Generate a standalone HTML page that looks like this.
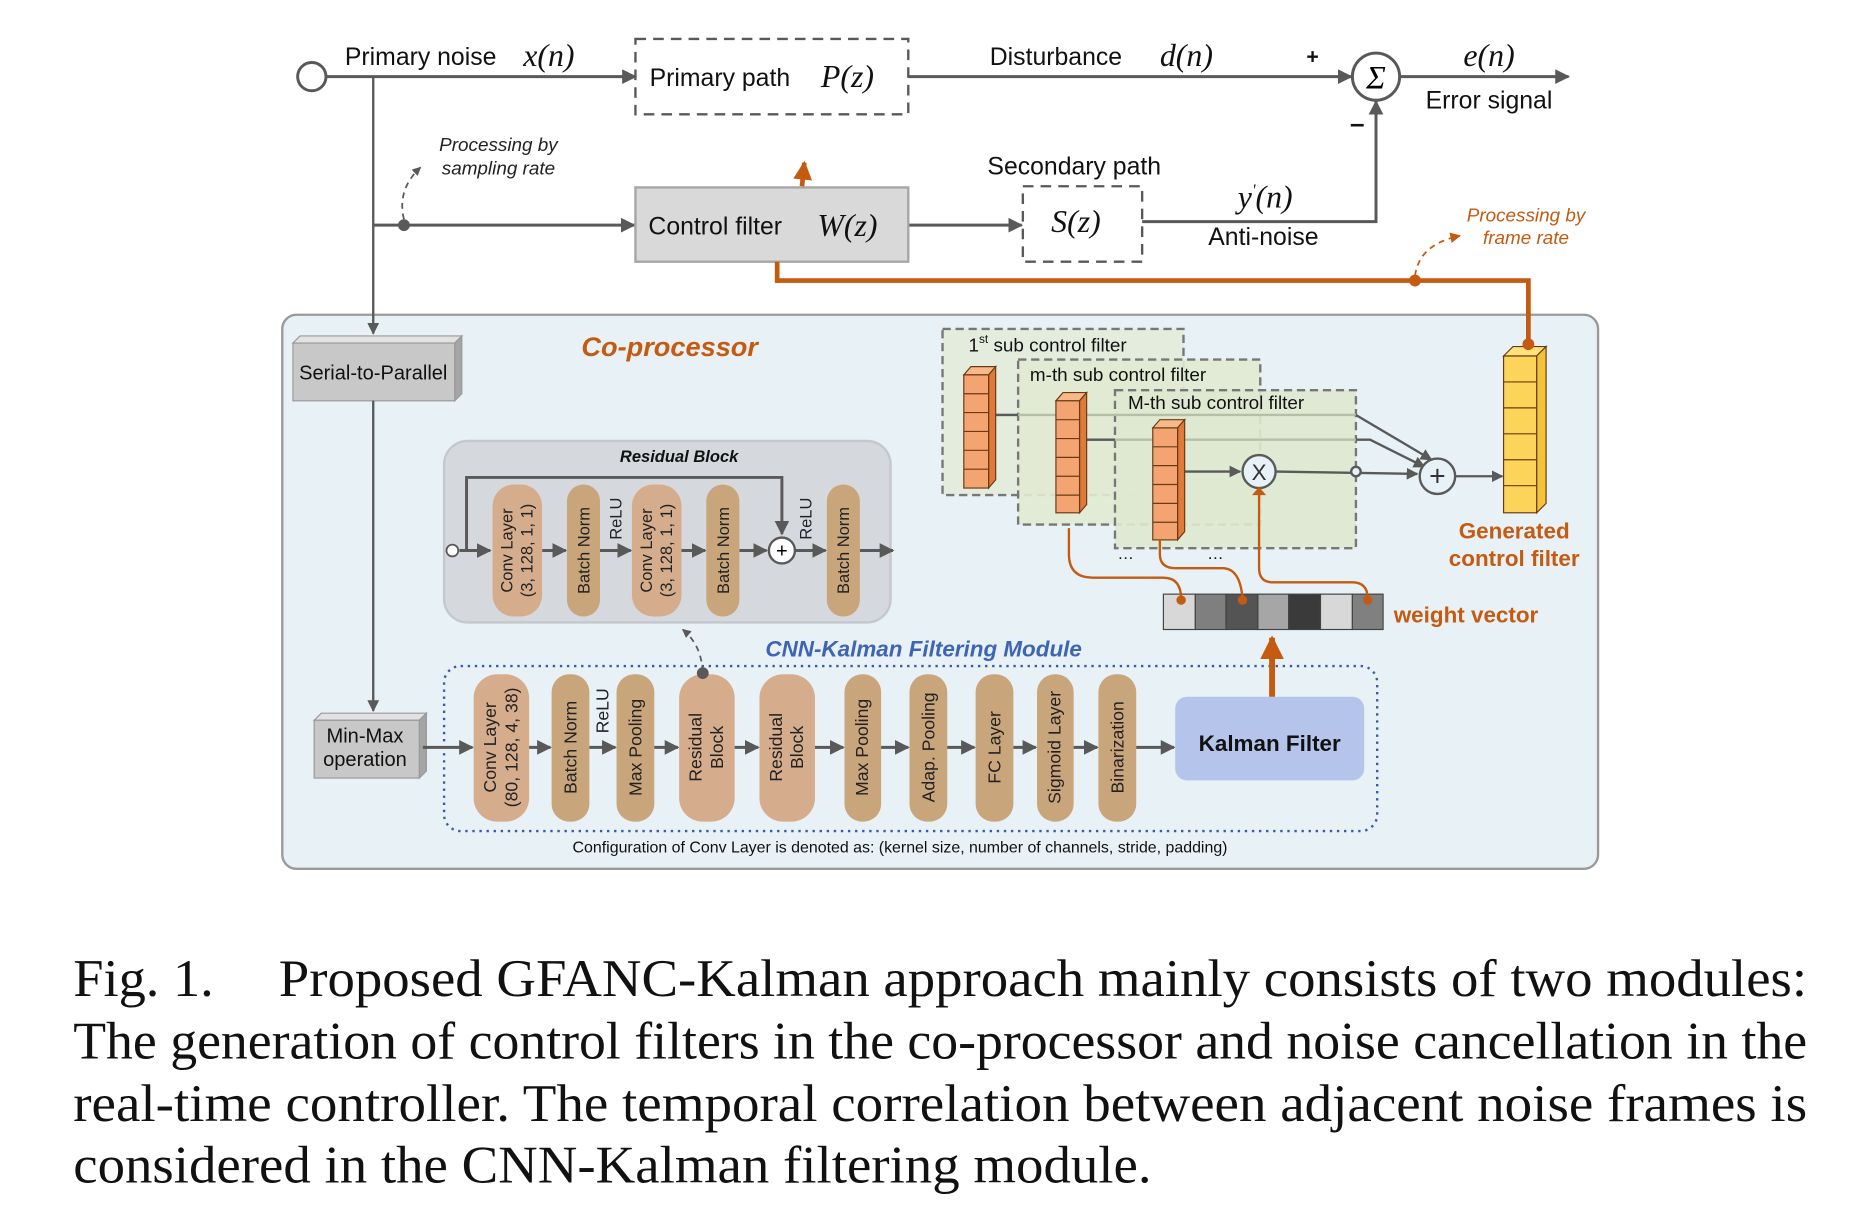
<!DOCTYPE html>
<html><head><meta charset="utf-8"><style>
html,body{margin:0;padding:0;background:#fff;}
svg{display:block;}
.s{font-family:"Liberation Sans",sans-serif;}
.m{font-family:"Liberation Serif",serif;font-style:italic;}
</style></head><body>
<svg width="1852" height="1226" viewBox="0 0 1568 1040" preserveAspectRatio="none" xmlns="http://www.w3.org/2000/svg">
<defs>
<marker id="a" viewBox="0 0 10 10" refX="9" refY="5" markerWidth="5" markerHeight="5" orient="auto"><path d="M0,0L10,5L0,10z" fill="#595959"/></marker>
<marker id="o" viewBox="0 0 10 10" refX="9" refY="5" markerWidth="4" markerHeight="4" orient="auto"><path d="M0,0L10,5L0,10z" fill="#c55a11"/></marker>
<marker id="o2" viewBox="0 0 10 10" refX="9" refY="5" markerWidth="6" markerHeight="6" orient="auto"><path d="M0,0L10,5L0,10z" fill="#c55a11"/></marker>
</defs>
<rect width="1568" height="1040" fill="#fff"/>

<!-- top controller -->
<g stroke="#595959" stroke-width="2.5" fill="none">
<circle cx="264" cy="65" r="12"/>
<line x1="276" y1="65" x2="538" y2="65" marker-end="url(#a)"/>
<line x1="769" y1="65" x2="1144" y2="65" marker-end="url(#a)"/>
<line x1="1185" y1="65" x2="1328" y2="65" marker-end="url(#a)"/>
<circle cx="1165" cy="65" r="20"/>
<line x1="316" y1="191" x2="537" y2="191" marker-end="url(#a)"/>
<line x1="769" y1="191" x2="865" y2="191" marker-end="url(#a)"/>
<polyline points="967,188 1165,188 1165,86" marker-end="url(#a)"/>
<rect x="538" y="33" width="231" height="64" stroke-dasharray="9,6" stroke-width="2"/>
<rect x="866" y="158" width="101" height="64" stroke-dasharray="9,6" stroke-width="2"/>
<path d="M342,186 C338,170 342,155 356,142" stroke-width="1.5" stroke-dasharray="5,4" marker-end="url(#a)"/>
</g>
<circle cx="342" cy="191" r="5" fill="#595959"/>
<rect x="538" y="159" width="231" height="63" fill="#d9d9d9" stroke="#a6a6a6" stroke-width="2"/>
<text x="1165" y="75" font-size="28" text-anchor="middle" class="m" font-style="normal">Σ</text>
<text class="s" font-size="21" fill="#111">
<tspan x="292" y="55">Primary noise</tspan>
<tspan x="550" y="73">Primary path</tspan>
<tspan x="838" y="55">Disturbance</tspan>
<tspan x="549" y="199">Control filter</tspan>
<tspan x="836" y="148">Secondary path</tspan>
<tspan x="1023" y="208">Anti-noise</tspan>
<tspan x="1207" y="92">Error signal</tspan>
<tspan x="1106" y="54" font-weight="bold" font-size="18">+</tspan>
<tspan x="1143" y="112" font-weight="bold" font-size="22">–</tspan>
</text>
<text class="m" font-size="27" fill="#111">
<tspan x="443" y="56">x(n)</tspan>
<tspan x="695" y="74">P(z)</tspan>
<tspan x="982" y="56">d(n)</tspan>
<tspan x="1239" y="56">e(n)</tspan>
<tspan x="692" y="200">W(z)</tspan>
<tspan x="890" y="197">S(z)</tspan>
<tspan x="1048" y="176">y</tspan><tspan font-size="14" dy="-10">'</tspan><tspan dy="10">(n)</tspan>
</text>
<text class="s" font-size="16" font-style="italic" fill="#222" text-anchor="middle">
<tspan x="422" y="128">Processing by</tspan><tspan x="422" y="148">sampling rate</tspan></text>
<text class="s" font-size="16" font-style="italic" fill="#c55a11" text-anchor="middle">
<tspan x="1292" y="188">Processing by</tspan><tspan x="1292" y="207">frame rate</tspan></text>

<!-- co-processor -->
<rect x="239" y="267" width="1114" height="470" rx="12" fill="#e8f1f6" stroke="#9a9a9a" stroke-width="2"/>
<line x1="316" y1="65" x2="316" y2="283" stroke="#595959" stroke-width="2" marker-end="url(#a)"/>
<!-- orange feedback -->
<g stroke="#c55a11" fill="none">
<polyline points="658,238 1294,238 1294,292" stroke-width="4"/>
<line x1="658" y1="240" x2="658" y2="222" stroke-width="4"/>
<line x1="679" y1="158" x2="681" y2="138" stroke-width="4" marker-end="url(#o)"/>
<path d="M1198,234 C1200,220 1208,206 1236,200" stroke-width="1.5" stroke-dasharray="5,4" marker-end="url(#o2)"/>
</g>
<circle cx="1198" cy="238" r="5" fill="#c55a11"/>

<!-- serial to parallel -->
<polygon points="248,291 254,285 391,285 385,291" fill="#e2e2e2" stroke="#999"/>
<polygon points="385,291 391,285 391,334 385,340" fill="#a5a5a5" stroke="#999"/>
<rect x="248" y="291" width="137" height="49" fill="#c8c8c8" stroke="#999"/>
<text x="316" y="322" class="s" font-size="17" text-anchor="middle" fill="#111">Serial-to-Parallel</text>
<line x1="316" y1="340" x2="316" y2="603" stroke="#595959" stroke-width="2" marker-end="url(#a)"/>
<polygon points="266,611 272,605 361,605 355,611" fill="#e2e2e2" stroke="#999"/>
<polygon points="355,611 361,605 361,654 355,660" fill="#a5a5a5" stroke="#999"/>
<rect x="266" y="611" width="89" height="49" fill="#c8c8c8" stroke="#999"/>
<text class="s" font-size="17" text-anchor="middle" fill="#111"><tspan x="309" y="630">Min-Max</tspan><tspan x="309" y="650">operation</tspan></text>
<text x="567" y="302" class="s" font-size="23" font-weight="bold" font-style="italic" fill="#c55a11" text-anchor="middle">Co-processor</text>

<!-- residual block -->
<rect x="376" y="374" width="378" height="154" rx="20" fill="#d5d9de" stroke="#c4c8cc" stroke-width="2"/>
<text x="575" y="392" class="s" font-size="14" font-weight="bold" font-style="italic" text-anchor="middle" fill="#111">Residual Block</text>
<g stroke="#595959" stroke-width="2.5" fill="none">
<polyline points="395,467 395,405 662,405 662,453" marker-end="url(#a)"/>
<line x1="389" y1="467" x2="415" y2="467" marker-end="url(#a)"/>
<line x1="459" y1="467" x2="479" y2="467" marker-end="url(#a)"/>
<line x1="508" y1="467" x2="534" y2="467" marker-end="url(#a)"/>
<line x1="577" y1="467" x2="597" y2="467" marker-end="url(#a)"/>
<line x1="626" y1="467" x2="649" y2="467" marker-end="url(#a)"/>
<line x1="673" y1="467" x2="699" y2="467" marker-end="url(#a)"/>
<line x1="728" y1="467" x2="756" y2="467" marker-end="url(#a)"/>
<circle cx="383" cy="467" r="5" fill="#fff" stroke-width="1.5"/>
<circle cx="662" cy="467" r="11" fill="#fff" stroke-width="2"/>
</g>
<text x="662" y="473" font-size="17" text-anchor="middle" class="s">+</text>
<g fill="#d6ad8c"><rect x="417" y="411" width="42" height="112" rx="18"/><rect x="535" y="411" width="42" height="112" rx="18"/></g>
<g fill="#c9a57b"><rect x="480" y="411" width="28" height="112" rx="14"/><rect x="598" y="411" width="28" height="112" rx="14"/><rect x="700" y="411" width="28" height="112" rx="14"/></g>
<g class="s" font-size="14" fill="#222" text-anchor="middle">
<text transform="translate(438,467) rotate(-90)"><tspan x="0" y="-4">Conv Layer</tspan><tspan x="0" y="13">(3, 128, 1, 1)</tspan></text>
<text transform="translate(556,467) rotate(-90)"><tspan x="0" y="-4">Conv Layer</tspan><tspan x="0" y="13">(3, 128, 1, 1)</tspan></text>
<text transform="translate(494,467) rotate(-90)" y="5">Batch Norm</text>
<text transform="translate(612,467) rotate(-90)" y="5">Batch Norm</text>
<text transform="translate(714,467) rotate(-90)" y="5">Batch Norm</text>
<text transform="translate(521,440) rotate(-90)" y="5">ReLU</text>
<text transform="translate(682,440) rotate(-90)" y="5">ReLU</text>
</g>

<!-- CNN-Kalman -->
<text x="782" y="557" class="s" font-size="19" font-weight="bold" font-style="italic" fill="#3e64b4" text-anchor="middle">CNN-Kalman Filtering Module</text>
<rect x="376" y="565" width="790" height="140" rx="14" fill="none" stroke="#3a5aa8" stroke-width="2" stroke-dasharray="2,4"/>
<path d="M595,570 C594,556 590,544 578,534" stroke="#595959" stroke-width="1.5" stroke-dasharray="5,4" fill="none" marker-end="url(#a)"/>
<g fill="#d6ad8c"><rect x="401" y="572" width="47" height="125" rx="20"/><rect x="575" y="572" width="47" height="125" rx="20"/><rect x="643" y="572" width="47" height="125" rx="20"/></g>
<g fill="#c9a57b"><rect x="467" y="572" width="32" height="125" rx="15"/><rect x="522" y="572" width="32" height="125" rx="15"/><rect x="715" y="572" width="31" height="125" rx="15"/><rect x="770" y="572" width="32" height="125" rx="15"/><rect x="826" y="572" width="32" height="125" rx="15"/><rect x="878" y="572" width="31" height="125" rx="15"/><rect x="930" y="572" width="32" height="125" rx="15"/></g>
<circle cx="595" cy="571" r="5" fill="#595959"/>
<g stroke="#595959" stroke-width="2.5" fill="none">
<line x1="358" y1="634" x2="400" y2="634" marker-end="url(#a)"/>
<line x1="448" y1="634" x2="466" y2="634" marker-end="url(#a)"/>
<line x1="499" y1="634" x2="521" y2="634" marker-end="url(#a)"/>
<line x1="554" y1="634" x2="574" y2="634" marker-end="url(#a)"/>
<line x1="622" y1="634" x2="642" y2="634" marker-end="url(#a)"/>
<line x1="690" y1="634" x2="714" y2="634" marker-end="url(#a)"/>
<line x1="746" y1="634" x2="769" y2="634" marker-end="url(#a)"/>
<line x1="802" y1="634" x2="825" y2="634" marker-end="url(#a)"/>
<line x1="858" y1="634" x2="877" y2="634" marker-end="url(#a)"/>
<line x1="909" y1="634" x2="929" y2="634" marker-end="url(#a)"/>
<line x1="962" y1="634" x2="994" y2="634" marker-end="url(#a)"/>
</g>
<g class="s" font-size="15" fill="#222" text-anchor="middle">
<text transform="translate(424,634) rotate(-90)"><tspan x="0" y="-4">Conv Layer</tspan><tspan x="0" y="14">(80, 128, 4, 38)</tspan></text>
<text transform="translate(598,634) rotate(-90)"><tspan x="0" y="-4">Residual</tspan><tspan x="0" y="14">Block</tspan></text>
<text transform="translate(666,634) rotate(-90)"><tspan x="0" y="-4">Residual</tspan><tspan x="0" y="14">Block</tspan></text>
<text transform="translate(483,634) rotate(-90)" y="5">Batch Norm</text>
<text transform="translate(538,634) rotate(-90)" y="5">Max Pooling</text>
<text transform="translate(730,634) rotate(-90)" y="5">Max Pooling</text>
<text transform="translate(786,634) rotate(-90)" y="5">Adap. Pooling</text>
<text transform="translate(842,634) rotate(-90)" y="5">FC Layer</text>
<text transform="translate(893,634) rotate(-90)" y="5">Sigmoid Layer</text>
<text transform="translate(946,634) rotate(-90)" y="5">Binarization</text>
<text transform="translate(510,603) rotate(-90)" y="5">ReLU</text>
</g>
<rect x="995" y="591" width="160" height="71" rx="10" fill="#b4c4ea"/>
<text x="1075" y="637" class="s" font-size="19" font-weight="bold" text-anchor="middle" fill="#111">Kalman Filter</text>
<text x="762" y="723" class="s" font-size="13.5" text-anchor="middle" fill="#111">Configuration of Conv Layer is denoted as: (kernel size, number of channels, stride, padding)</text>
<line x1="1077" y1="591" x2="1077" y2="541" stroke="#c55a11" stroke-width="5" marker-end="url(#o)"/>

<!-- sub control filters -->
<g stroke="#777" stroke-width="2" stroke-dasharray="7,4">
<rect x="798" y="279" width="204" height="141" fill="#e3ebd8" fill-opacity="0.85"/>
<rect x="862" y="305" width="205" height="140" fill="#e1ead3" fill-opacity="0.9"/>
<rect x="944" y="331" width="204" height="134" fill="#dfe8d0" fill-opacity="0.9"/>
</g>
<g class="s" font-size="16" fill="#111">
<text x="820" y="298">1<tspan font-size="10" dy="-7">st</tspan><tspan dy="7"> sub control filter</tspan></text>
<text x="872" y="323">m-th sub control filter</text>
<text x="955" y="347">M-th sub control filter</text>
<text x="946" y="474" font-size="14">…</text><text x="1022" y="474" font-size="14">…</text>
</g>
<g stroke="#b5bfa8" stroke-width="2" fill="none">
<line x1="843" y1="352" x2="1148" y2="352"/>
<line x1="920" y1="373" x2="1148" y2="373"/>
</g>
<g stroke="#595959" stroke-width="2" fill="none">
<line x1="843" y1="352" x2="862" y2="352"/>
<line x1="920" y1="373" x2="944" y2="373"/>
<line x1="1003" y1="400" x2="1050" y2="400" marker-end="url(#a)"/>
<line x1="1080" y1="400" x2="1200" y2="402" marker-end="url(#a)"/>
<polyline points="1148,352 1212,390" marker-end="url(#a)"/>
<polyline points="1148,373 1160,373 1206,396" marker-end="url(#a)"/>
<line x1="1232" y1="404" x2="1272" y2="404" marker-end="url(#a)"/>
<circle cx="1066" cy="400" r="14" fill="#e8f1f6"/>
<circle cx="1217" cy="404" r="15" fill="#e8f1f6"/>
<circle cx="1148" cy="400" r="4" fill="#e8f1f6"/>
</g>
<text x="1066" y="407" class="s" font-size="19" text-anchor="middle" fill="#333">X</text>
<text x="1217" y="412" class="s" font-size="24" text-anchor="middle" fill="#333">+</text>

<!-- stacks -->
<g stroke="#6b3a14" stroke-width="1">
<polygon points="816,318 822,311 843,311 837,318" fill="#f7b98a"/><polygon points="837,318 843,311 843,407 837,414" fill="#e07a3a"/>
<rect x="816" y="318" width="21" height="96" fill="#f4a470"/>
<path d="M816,334H837M816,350H837M816,366H837M816,382H837M816,398H837" fill="none"/>
<polygon points="894,340 900,333 920,333 914,340" fill="#f7b98a"/><polygon points="914,340 920,333 920,428 914,435" fill="#e07a3a"/>
<rect x="894" y="340" width="20" height="95" fill="#f4a470"/>
<path d="M894,356H914M894,372H914M894,388H914M894,404H914M894,420H914" fill="none"/>
<polygon points="976,363 982,356 1003,356 997,363" fill="#f7b98a"/><polygon points="997,363 1003,356 1003,451 997,458" fill="#e07a3a"/>
<rect x="976" y="363" width="21" height="95" fill="#f4a470"/>
<path d="M976,379H997M976,395H997M976,411H997M976,427H997M976,443H997" fill="none"/>
<polygon points="1273,302 1281,294 1309,294 1301,302" fill="#ffe27a"/><polygon points="1301,302 1309,294 1309,427 1301,435" fill="#f2c23a"/>
<rect x="1273" y="302" width="28" height="133" fill="#fcd45a"/>
<path d="M1273,324H1301M1273,346H1301M1273,368H1301M1273,390H1301M1273,412H1301" fill="none"/>
</g>
<circle cx="1294" cy="292" r="5" fill="#c55a11"/>
<text class="s" font-size="19" font-weight="bold" fill="#c55a11" text-anchor="middle"><tspan x="1282" y="457">Generated</tspan><tspan x="1282" y="480">control filter</tspan></text>

<!-- weight vector -->
<g stroke="#444" stroke-width="1">
<rect x="985" y="504" width="27" height="30" fill="#d8d8d8"/><rect x="1012" y="504" width="26" height="30" fill="#7f7f7f"/><rect x="1038" y="504" width="27" height="30" fill="#545454"/><rect x="1065" y="504" width="26" height="30" fill="#a6a6a6"/><rect x="1091" y="504" width="27" height="30" fill="#3a3a3a"/><rect x="1118" y="504" width="27" height="30" fill="#d8d8d8"/><rect x="1145" y="504" width="26" height="30" fill="#808080"/>
</g>
<g stroke="#c55a11" stroke-width="2" fill="none">
<path d="M905,448 V470 Q905,490 925,490 H985 Q1000,490 1000,508"/>
<path d="M982,458 V470 Q982,482 995,482 H1035 Q1050,482 1052,508"/>
<path d="M1066,415 V482 Q1066,494 1078,494 H1145 Q1158,494 1158,508"/>
</g>
<g fill="#c55a11"><circle cx="1000" cy="509" r="4"/><circle cx="1052" cy="509" r="4"/><circle cx="1158" cy="509" r="4"/></g>
<path d="M1060,420 L1066,413 L1072,420z" fill="#c55a11"/>
<text x="1180" y="528" class="s" font-size="19" font-weight="bold" fill="#c55a11">weight vector</text>

<!-- caption -->
<g font-family="'Liberation Serif',serif" font-size="45" fill="#111">
<text x="62" y="845" textLength="119" lengthAdjust="spacingAndGlyphs">Fig. 1.</text>
<text x="236" y="845" textLength="1294" lengthAdjust="spacingAndGlyphs">Proposed GFANC-Kalman approach mainly consists of two modules:</text>
<text x="62" y="898" textLength="1468" lengthAdjust="spacingAndGlyphs">The generation of control filters in the co-processor and noise cancellation in the</text>
<text x="62" y="951" textLength="1468" lengthAdjust="spacingAndGlyphs">real-time controller. The temporal correlation between adjacent noise frames is</text>
<text x="62" y="1003" textLength="913" lengthAdjust="spacingAndGlyphs">considered in the CNN-Kalman filtering module.</text>
</g>
</svg>
</body></html>
